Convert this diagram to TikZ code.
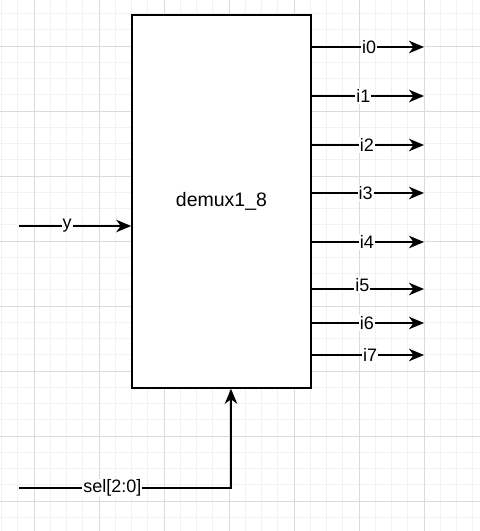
\documentclass[tikz,border=0pt]{standalone}
\usepackage{fontspec}
\setmainfont{Liberation Sans}
\usetikzlibrary{arrows.meta}
\definecolor{gridminor}{RGB}{242,242,242}
\definecolor{gridmajor}{RGB}{218,218,218}

\begin{document}
\begin{tikzpicture}[
    x=1pt,y=-1pt,
    block/.style={draw=black,line width=1.6pt,fill=white,inner sep=0pt,minimum width=179pt,minimum height=373pt,font=\fontsize{19.5}{22}\selectfont},
    wire/.style={line width=1.6pt,draw=black},
    arrow/.style={wire,-{Stealth[length=15pt,width=12.5pt,inset=4.5pt]}},
    lbl/.style={fill=white,inner sep=1pt,font=\fontsize{18}{20}\selectfont},
    minorline/.style={draw=gridminor,line width=1pt},
    majorline/.style={draw=gridmajor,line width=1pt}
  ]
  \fill[white] (0,0) rectangle (480,531);
  \useasboundingbox (0,0) rectangle (480,531);
  % grid
  \foreach \x in {0,...,29} \draw[minorline] (1.5+16.25*\x,0) -- (1.5+16.25*\x,531);
  \foreach \y in {0,...,31} \draw[minorline] (0,13.5+16.25*\y) -- (480,13.5+16.25*\y);
  \foreach \x in {0,...,6} \draw[majorline] (34+65*\x,0) -- (34+65*\x,531);
  \foreach \y in {0,...,7} \draw[majorline] (0,46+65*\y) -- (480,46+65*\y);

  \node[block] (demux) at (221.5,201.5) {demux1\_8};

  \coordinate (yin) at (19,226);
  \coordinate (selin) at (19,488);
  \coordinate (selcorner) at (231,488);
  \coordinate (o0) at (424,47);
  \coordinate (o1) at (424,96);
  \coordinate (o2) at (424,145);
  \coordinate (o3) at (424,193);
  \coordinate (o4) at (424,242);
  \coordinate (o5) at (424,289);
  \coordinate (o6) at (424,323);
  \coordinate (o7) at (424,355);

  % inputs
  \draw[arrow] (yin) -- node[lbl,pos=0.43]{y} (yin -| demux.west);
  \draw[arrow] (selin) -- node[lbl,pos=0.44]{sel[2:0]} (selcorner) -- (selcorner |- demux.south);

  % outputs
  \draw[arrow] (o0 -| demux.east) -- node[lbl,pos=0.51]{i0} (o0);
  \draw[arrow] (o1 -| demux.east) -- node[lbl,pos=0.46]{i1} (o1);
  \draw[arrow] (o2 -| demux.east) -- node[lbl,pos=0.49]{i2} (o2);
  \draw[arrow] (o3 -| demux.east) -- node[lbl,pos=0.48]{i3} (o3);
  \draw[arrow] (o4 -| demux.east) -- node[lbl,pos=0.49]{i4} (o4);
  \draw[arrow] (o5 -| demux.east) -- node[lbl,pos=0.45,yshift=4pt]{i5} (o5);
  \draw[arrow] (o6 -| demux.east) -- node[lbl,pos=0.49]{i6} (o6);
  \draw[arrow] (o7 -| demux.east) -- node[lbl,pos=0.52]{i7} (o7);
\end{tikzpicture}
\end{document}
